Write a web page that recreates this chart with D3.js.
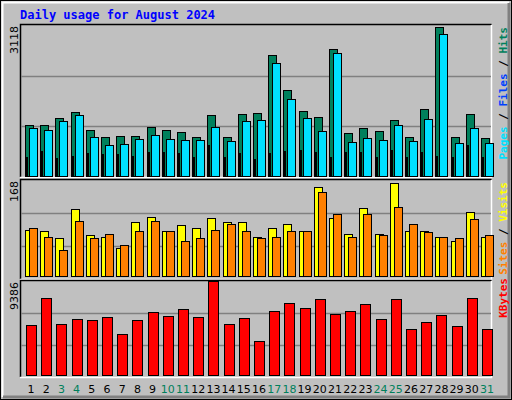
<!DOCTYPE html>
<html><head><meta charset="utf-8">
<script src="https://cdn.jsdelivr.net/npm/d3@7"></script>
<style>body{margin:0;background:#fff}</style></head>
<body><script>
const days = d3.range(1,32);
const weekends = [3,4,10,11,17,18,24,25,31];
const hits  = [1067,1067,1210,1333,964,820,841,841,1026,964,923,820,1272,820,1292,1313,2503,1785,1354,1231,2626,903,1005,944,1169,820,1395,3080,820,1292,800];
const pages = [1005,964,1149,1272,820,656,677,779,861,779,759,759,1026,738,1149,1169,2339,1600,1210,944,2544,718,800,759,1067,738,1190,2940,697,1005,697];
const files = [410,533,390,431,492,472,472,431,513,513,492,410,656,410,492,369,492,533,554,513,410,513,513,410,554,410,513,431,410,656,410];
const visits = [84,81,69,118,74,72,53,96,106,82,91,86,103,96,96,72,87,93,82,156,103,77,120,77,163,82,81,72,65,113,72];
const sites  = [87,72,50,98,70,77,58,82,98,82,65,69,84,93,81,70,72,81,82,147,110,72,111,74,122,93,79,72,69,101,75];
const kbytes = [5077,7760,5173,5652,5556,5844,4215,5556,6323,5940,6610,5844,9386,5173,5748,3545,6419,7281,6706,7664,6131,6419,7185,5652,7664,4694,5365,6035,4982,7760,4694];
const maxTop=3118, maxMid=168, maxBot=9386;

const svg=d3.select("body").append("svg").attr("width",512).attr("height",400);
svg.append("rect").attr("width",512).attr("height",400).attr("fill","#c0c0c0");
// outer frame
svg.append("rect").attr("x",0.5).attr("y",0.5).attr("width",511).attr("height",399).attr("fill","none").attr("stroke","#000");
svg.append("path").attr("d","M2.5,397V2.5H509").attr("fill","none").attr("stroke","#fff").attr("stroke-width",2);
svg.append("path").attr("d","M509,3V397H3").attr("fill","none").attr("stroke","#808080").attr("stroke-width",3);

svg.append("text").attr("x",20).attr("y",19).text("Daily usage for August 2024")
 .attr("font-family","DejaVu Sans Mono").attr("font-weight","bold").attr("font-size",12).attr("fill","#0000ff");

const x=d3.scaleBand().domain(days).range([20,491]).paddingInner(0).paddingOuter(0);
const X0=25, step=15.2;
const dx=d=>X0+(d-1)*step;

function panel(y0,y1,max,label){
  const y=d3.scaleLinear().domain([0,max]).range([y1,y0]);
  svg.append("path").attr("d",`M20.5,${y1}V${y0-0.5}H491.5`).attr("fill","none").attr("stroke","#000").attr("stroke-width",1.5);
  svg.append("path").attr("d",`M491.5,${y0}V${y1+0.5}H20`).attr("fill","none").attr("stroke","#fff").attr("stroke-width",1.5);
  [1/3,2/3].forEach(f=>{const yy=Math.round(y(max*f))+0.5;
    svg.append("line").attr("x1",21).attr("x2",491).attr("y1",yy).attr("y2",yy).attr("stroke","#808080").attr("stroke-width",1.5);});
  svg.append("text").attr("transform",`translate(18,${y0+1}) rotate(-90)`).attr("text-anchor","end")
    .attr("font-family","DejaVu Sans").attr("font-size",11).attr("fill","#000").text(label);
  return y;
}
function bars(y,data,off,w,color,y1){
  svg.append("g").selectAll("rect").data(data).join("rect")
   .attr("x",(d,i)=>Math.round(dx(i+1)+off)+0.5).attr("y",d=>Math.round(y(d))+0.5)
   .attr("width",w).attr("height",d=>Math.max(0,y1-Math.round(y(d))-1))
   .attr("fill",color).attr("stroke","#000").attr("stroke-width",1);
}
const yT=panel(25,177,maxTop,"3118");
bars(yT,hits,0,8,"#00805c",177);
bars(yT,pages,4,8,"#00e0ff",177);
bars(yT,files,1,1,"#0040ff",177);
const yM=panel(180,279,maxMid,"168");
bars(yM,visits,0,8,"#ffff00",277);
bars(yM,sites,4,8,"#ff8000",277);
const yB=panel(281,377,maxBot,"9386");
bars(yB,kbytes,1,10,"#ff0000",376);

function legend(yEnd,parts){
  const t=svg.append("text").attr("transform",`translate(507,${yEnd}) rotate(-90)`).attr("text-anchor","end")
   .attr("font-family","DejaVu Sans Mono").attr("font-weight","bold").attr("font-size",11);
  parts.forEach(p=>t.append("tspan").attr("fill",p[1]).text(p[0]));
}
legend(27,[["Pages","#00e0ff"],[" / ","#000"],["Files","#0040ff"],[" / ","#000"],["Hits","#00805c"]]);
legend(182,[["Sites","#ff8000"],[" / ","#000"],["Visits","#ffff00"]]);
legend(278,[["KBytes","#ff0000"]]);

svg.append("g").selectAll("text").data(days).join("text")
 .attr("x",d=>dx(d)+6).attr("y",393).attr("text-anchor","middle")
 .attr("font-family","DejaVu Sans").attr("font-size",11)
 .attr("fill",d=>weekends.includes(d)?"#00805c":"#000").text(d=>d);
</script></body></html>
